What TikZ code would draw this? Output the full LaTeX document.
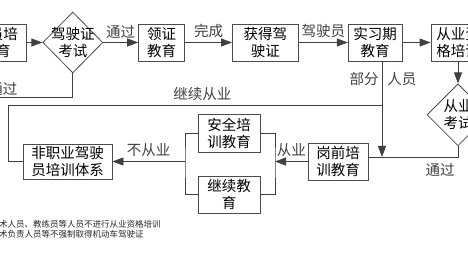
\documentclass[tikz,border=0pt]{standalone}
\usepackage{fontspec}
\setmainfont{Noto Sans CJK SC}
\usepackage{tikz}
\usetikzlibrary{arrows.meta, shapes.geometric, positioning, calc}

\begin{document}
\begin{tikzpicture}[x=1pt, y=-1pt,
        box/.style={draw=black!70, line width=0.8pt, align=center, inner sep=2pt,
                    minimum height=37pt, font=\fontsize{14.5}{17}\selectfont},
        dia/.style={draw=black!70, line width=0.8pt, diamond, inner sep=0pt},
        lbl/.style={font=\fontsize{14.5}{17}\selectfont, inner sep=1pt, align=center},
        note/.style={font=\fontsize{8.5}{10}\selectfont, align=left, inner sep=0pt, text=black!85},
        arr/.style={-{Triangle[length=11pt, width=8pt]}, line width=0.8pt, black!75},
        conn/.style={line width=0.8pt, black!75}
      ]
        \useasboundingbox (0,0) rectangle (468,264);
        \clip (0,0) rectangle (468,264);
        % upper row
        \node[box, minimum width=74pt] (pei) at (-11,42.5) {驾驶员培\\训教育};
        \node[dia, minimum width=60pt, minimum height=61pt, right=16pt of pei,
              label={[lbl]center:驾驶证\\考试}] (exam1) {};
        \node[box, minimum width=46pt, right=35pt of exam1] (lz) {领证\\教育};
        \node[box, minimum width=66pt, right=47pt of lz] (hd) {获得驾\\驶证};
        \node[box, minimum width=54pt, right=49pt of hd] (sx) {实习期\\教育};
        \node[box, minimum width=54pt, right=28pt of sx] (zg) {从业资\\格培训};
        \node[dia, minimum width=62pt, minimum height=62pt, below=22pt of zg,
              label={[lbl]center:从业\\考试}] (exam2) {};
        % lower row
        \node[box, minimum width=60pt] (gq) at (338,161.5) {岗前培\\训教育};
        \node[box, minimum width=62pt, minimum height=38pt] (aq) at (229,133) {安全培\\训教育};
        \node[box, minimum width=62pt] (jx) at (229,194.5) {继续教\\育};
        \node[box, minimum width=89pt, minimum height=35pt] (fz) at (67.5,161.5) {非职业驾驶\\员培训体系};
        \node[note, anchor=west] (remark) at (-1,229)
          {术人员、教练员等人员不进行从业资格培训\\术负责人员等不强制取得机动车驾驶证};
        % helper points
        \coordinate (j) at (382,157);
        \coordinate (k) at (382,105);
        \coordinate (c1) at (8,105);
        \coordinate (back) at (-11,97);
        \coordinate (bl) at (185,161.5);
        \coordinate (br) at (275,161.5);
        % connectors
        \draw[arr] (pei) -- (exam1);
        \draw[arr] (exam1) -- node[lbl, above=3pt] {通过} (lz);
        \draw[arr] (lz) -- node[lbl, above=3pt] {完成} (hd);
        \draw[arr] (hd) -- node[lbl, above=3pt] {驾驶员} (sx);
        \draw[arr] (sx) -- (zg);
        \draw[arr] (zg) -- (exam2);
        \draw[arr] (exam1.south) |- node[lbl, above, pos=0.96] {未通过} (back) -- (pei.south);
        \draw[arr] (sx.south -| j) -- node[lbl, pos=0.18, left=2pt] {部分}
          node[lbl, pos=0.18, right=4pt] {人员} (j);
        \draw[conn] (exam2.south) |- node[lbl, below=5pt, pos=0.6] {通过} (gq.east |- j);
        \draw[conn] (k) -- node[lbl, above=3pt, pos=0.48] {继续从业} (c1) |- (fz.west);
        \draw[conn] (aq.west) -| (bl) |- (jx.west);
        \draw[conn] (aq.east) -| (br) |- (jx.east);
        \draw[arr] (gq.west) -- node[lbl, above=3pt] {从业} (br);
        \draw[arr] (bl) -- node[lbl, above=3pt] {不从业} (fz.east);
      \end{tikzpicture}
\end{document}
